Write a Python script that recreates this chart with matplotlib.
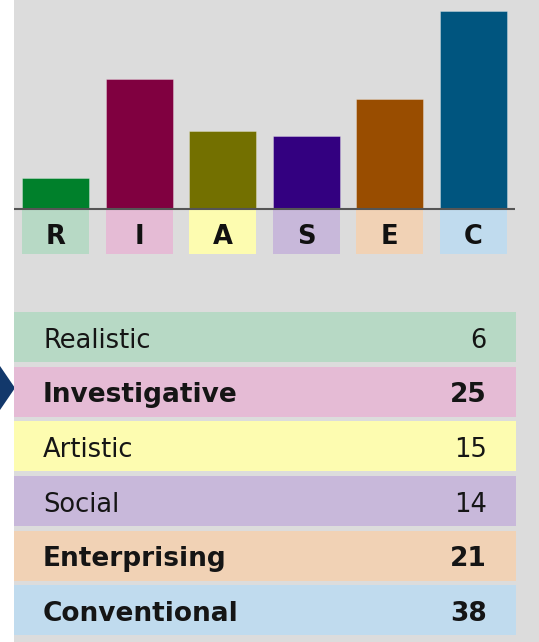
import matplotlib.pyplot as plt
from matplotlib.patches import Rectangle, Polygon

# RIASEC scores
letters = ["R", "I", "A", "S", "E", "C"]
names = ["Realistic", "Investigative", "Artistic", "Social", "Enterprising", "Conventional"]
scores = [6, 25, 15, 14, 21, 38]
bar_colors = ["#00802b", "#800040", "#737000", "#330080", "#994d00", "#00557f"]
light_colors = ["#b7d9c5", "#e5bbd5", "#fdfcb0", "#c8b8da", "#f1d2b5", "#c0dbee"]

W, H = 539, 642
fig = plt.figure(figsize=(W / 100, H / 100), dpi=100)
fig.patch.set_facecolor("white")

def px_axes(left, top, right, bottom):
    return fig.add_axes([left / W, 1 - bottom / H, (right - left) / W, (bottom - top) / H])

# background panel + pointer arrow
bg = px_axes(0, 0, W, H)
bg.set_xlim(0, W)
bg.set_ylim(H, 0)
bg.axis("off")
bg.add_patch(Rectangle((14, 0), W - 14, H, color="#dcdcdc", lw=0))
bg.add_patch(Polygon([(0, 366), (15, 388), (0, 410)], closed=True, color="#12386b", lw=0))

# bar chart
scale = 5.22   # px per point
pitch = 83.6
ax = px_axes(14, 0, 515, 255)
x = list(range(len(letters)))
xmin = -(55.5 - 14) / pitch
ax.set_xlim(xmin, xmin + 501 / pitch)
ax.set_ylim(-(255 - 209) / scale, 209 / scale)
ax.axis("off")
ax.bar(x, scores, width=67 / pitch, color=bar_colors, edgecolor=(1, 1, 1, 0.3), lw=0.7)
ax.bar(x, -44 / scale, bottom=-1 / scale, width=67 / pitch, color=light_colors, lw=0)
ax.axhline(0, color="#555555", lw=1.5)
for i, l in enumerate(letters):
    ax.text(i, -(244.5 - 209) / scale, l, ha="center", va="baseline",
            fontsize=18.5, fontweight="bold", color="#111111")

# score table
row_pitch = 54.65
tb = px_axes(14, 337 - row_pitch / 2, 516, 610.4 + row_pitch / 2)
tb.set_xlim(0, 502)
tb.set_ylim(len(names) - 0.5, -0.5)
tb.axis("off")
tb.barh(x, 502, left=0, height=50 / row_pitch, color=light_colors, lw=0)
top3 = sorted(scores, reverse=True)[:3]
for i, (n, s) in enumerate(zip(names, scores)):
    w = "bold" if s in top3 else "normal"
    fs = 19 if w == "bold" else 18.5
    tb.text(29, i + 10.5 / row_pitch, n, ha="left", va="baseline",
            fontsize=fs, fontweight=w, color="#151515")
    tb.text(473, i + 10.5 / row_pitch, str(s), ha="right", va="baseline",
            fontsize=fs, fontweight=w, color="#151515")

fig.savefig("out.png", dpi=100)
